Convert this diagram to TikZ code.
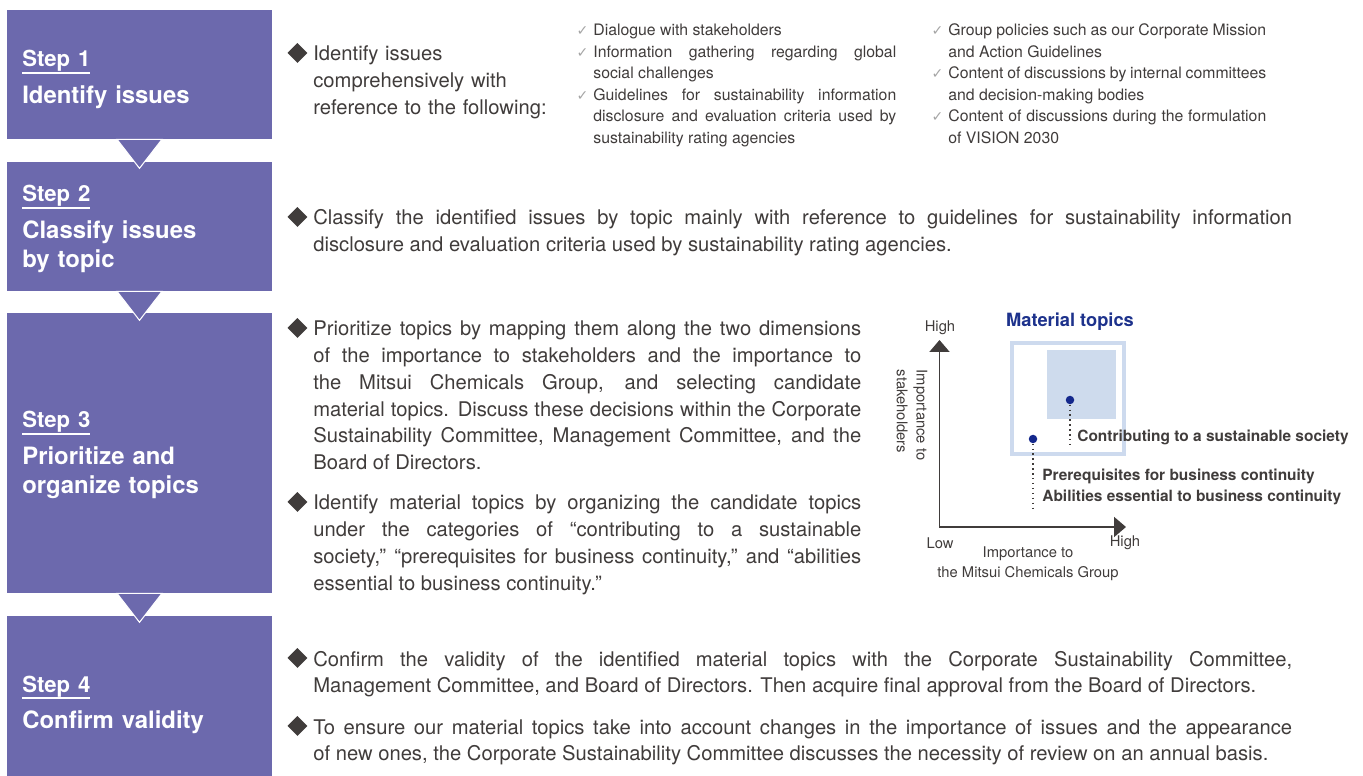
\documentclass[tikz,border=0pt]{standalone}
\usepackage{fontspec}
\setmainfont{TeX Gyre Heros}
\newfontfamily\symfont{DejaVu Sans}
\usepackage{graphicx}
\usetikzlibrary{arrows.meta,positioning}
\definecolor{stepfill}{RGB}{108,105,173}
\definecolor{textgray}{RGB}{64,60,59}
\definecolor{checkgray}{RGB}{165,165,165}
\definecolor{matblue}{RGB}{29,50,140}
\definecolor{dotblue}{RGB}{20,40,140}
\definecolor{lightframe}{RGB}{205,218,238}
\definecolor{lightfill}{RGB}{206,219,237}
\newcommand\stepno[1]{{\fontsize{12.6}{15}\selectfont\setbox0\hbox{#1}\rlap{\rule[-4pt]{\wd0}{0.9pt}}\box0}}
\newcommand\dia{\leavevmode\llap{\raisebox{-1.1pt}{\rotatebox{45}{\rule{8pt}{8pt}}}\hspace{3.4pt}}}
\newcommand\chk{\leavevmode\llap{{\symfont\color{checkgray}\fontsize{8}{8}\selectfont ✓}\hspace{2.8pt}}}

\begin{document}
\begin{tikzpicture}[x=0.02cm, y=-0.02cm,
    stepbox/.style = {fill=stepfill, minimum width=5.3cm, inner sep=0pt},
    steplabel/.style = {text=white, inner sep=0pt, anchor=base west, text width=4.9cm, align=left, font=\bfseries\fontsize{13.6}{16.2}\selectfont},
    steparrow/.style = {fill=stepfill, draw=white, line width=0.6pt},
    bodytext/.style = {text=textgray, inner sep=0pt, anchor=base west, align=justify, font=\fontsize{11.5}{15.2}\selectfont},
    checktext/.style = {text=textgray, inner sep=0pt, anchor=base west, align=justify, font=\fontsize{9}{12.2}\selectfont},
    axislabel/.style = {text=textgray, inner sep=0pt, font=\fontsize{8.4}{11.3}\selectfont},
    toplabel/.style = {text=textgray, inner sep=0pt, anchor=west, align=left, font=\bfseries\fontsize{8.8}{12.4}\selectfont},
    topicdot/.style = {circle, fill=dotblue, inner sep=0pt, minimum size=0.17cm},
    leader/.style = {textgray, dotted, line width=0.8pt}]
    \useasboundingbox (0,0) rectangle (1363,776);

    \node (step1) at (139.5,74.5) [stepbox, minimum height=2.58cm] {};
    \node (step2) at (139.5,226.5) [stepbox, minimum height=2.58cm] {};
    \node (step3) at (139.5,453) [stepbox, minimum height=5.6cm] {};
    \node (step4) at (139.5,701.5) [stepbox, minimum height=3.42cm] {};
    \path [steparrow] ([xshift=-0.45cm]step1.south) -- ([xshift=0.45cm]step1.south) -- ([yshift=-0.58cm]step1.south) -- cycle;
    \path [steparrow] ([xshift=-0.45cm]step2.south) -- ([xshift=0.45cm]step2.south) -- ([yshift=-0.58cm]step2.south) -- cycle;
    \path [steparrow] ([xshift=-0.45cm]step3.south) -- ([xshift=0.45cm]step3.south) -- ([yshift=-0.58cm]step3.south) -- cycle;
    \node (label1) at (22,67) [steplabel] {\stepno{Step 1}\\[4.6pt]Identify issues};
    \node (label2) at (22,202) [steplabel] {\stepno{Step 2}\\[4.8pt]Classify issues\\by topic};
    \node (label3) at (22,428) [steplabel] {\stepno{Step 3}\\[4.8pt]Prioritize and\\organize topics};
    \node (label4) at (22,692) [steplabel] {\stepno{Step 4}\\[4.6pt]Confirm validity};

    \node (lead1) at (313,61) [bodytext, align=left, text width=5.4cm, font=\fontsize{11.5}{15.1}\selectfont] {\dia Identify issues\\comprehensively with\\reference to the following:};
    \node (check1) at (593,36) [checktext, text width=6.06cm] {\chk Dialogue with stakeholders\par
        \chk Information gathering regarding global\linebreak social challenges\par
        \chk Guidelines for sustainability information\linebreak disclosure and evaluation criteria used by\linebreak sustainability rating agencies};
    \node (check2) at (948,36) [checktext, text width=6.36cm] {\chk Group policies such as our Corporate Mission\linebreak and Action Guidelines\par
        \chk Content of discussions by internal committees\linebreak and decision-making bodies\par
        \chk Content of discussions during the formulation\linebreak of VISION 2030};

    \node (classify) at (313,225) [bodytext, text width=19.58cm] {\dia Classify the identified issues by topic mainly with reference to guidelines for sustainability information\linebreak disclosure and evaluation criteria used by sustainability rating agencies.};

    \node (prioritize) at (313,336) [bodytext, text width=10.96cm] {\dia Prioritize topics by mapping them along the two dimensions\linebreak of the importance to stakeholders and the importance to\linebreak the Mitsui Chemicals Group, and selecting candidate\linebreak material topics. Discuss these decisions within the Corporate\linebreak Sustainability Committee, Management Committee, and the\linebreak Board of Directors.};
    \node (organize) at (313,510) [bodytext, text width=10.96cm] {\dia Identify material topics by organizing the candidate topics\linebreak under the categories of “contributing to a sustainable\linebreak society,” “prerequisites for business continuity,” and “abilities\linebreak essential to business continuity.”};

    \node (confirm) at (313,666) [bodytext, text width=19.58cm] {\dia Confirm the validity of the identified material topics with the Corporate Sustainability Committee,\linebreak Management Committee, and Board of Directors. Then acquire final approval from the Board of Directors.};
    \node (review) at (313,734) [bodytext, text width=19.58cm] {\dia To ensure our material topics take into account changes in the importance of issues and the appearance\linebreak of new ones, the Corporate Sustainability Committee discusses the necessity of review on an annual basis.};

    \draw [lightframe, line width=0.08cm] (1012,343) rectangle (1124,454);
    \fill [lightfill] (1047,350) rectangle (1116,419);
    \node (mattitle) at (1070,322) [text=matblue, font=\bfseries\fontsize{10.4}{12}\selectfont] {Material topics};
    \coordinate (origin) at (939.5,527);
    \coordinate (ytip) at (939.5,340);
    \coordinate (xtip) at (1126,527);
    \draw [textgray, line width=1.1pt, {Triangle[width=0.4cm,length=0.24cm]}-{Triangle[width=0.4cm,length=0.24cm]}] (ytip) -- (origin) -- (xtip);
    \node (yhigh) at (940,328) [axislabel] {High};
    \node (xlow) at (940,543) [axislabel] {Low};
    \node (xhigh) at (1125,543) [axislabel] {High};
    \node (xtitle) at (1028,564) [axislabel, align=center] {Importance to\\the Mitsui Chemicals Group};
    \node (ytitle) at (912,415) [axislabel, rotate=-90, align=left] {Importance to\\stakeholders};

    \node (dot1) at (1070,400) [topicdot] {};
    \node (dot2) at (1033,439) [topicdot] {};
    \coordinate (end1) at (1070,445);
    \coordinate (end2) at (1033,508);
    \draw [leader] (dot1) -- (end1);
    \draw [leader] (dot2) -- (end2);
    \node (contrib) at (1077,437) [toplabel] {Contributing to a sustainable society};
    \node (prereq) at (1042,487) [toplabel] {Prerequisites for business continuity\\Abilities essential to business continuity};
\end{tikzpicture}
\end{document}
